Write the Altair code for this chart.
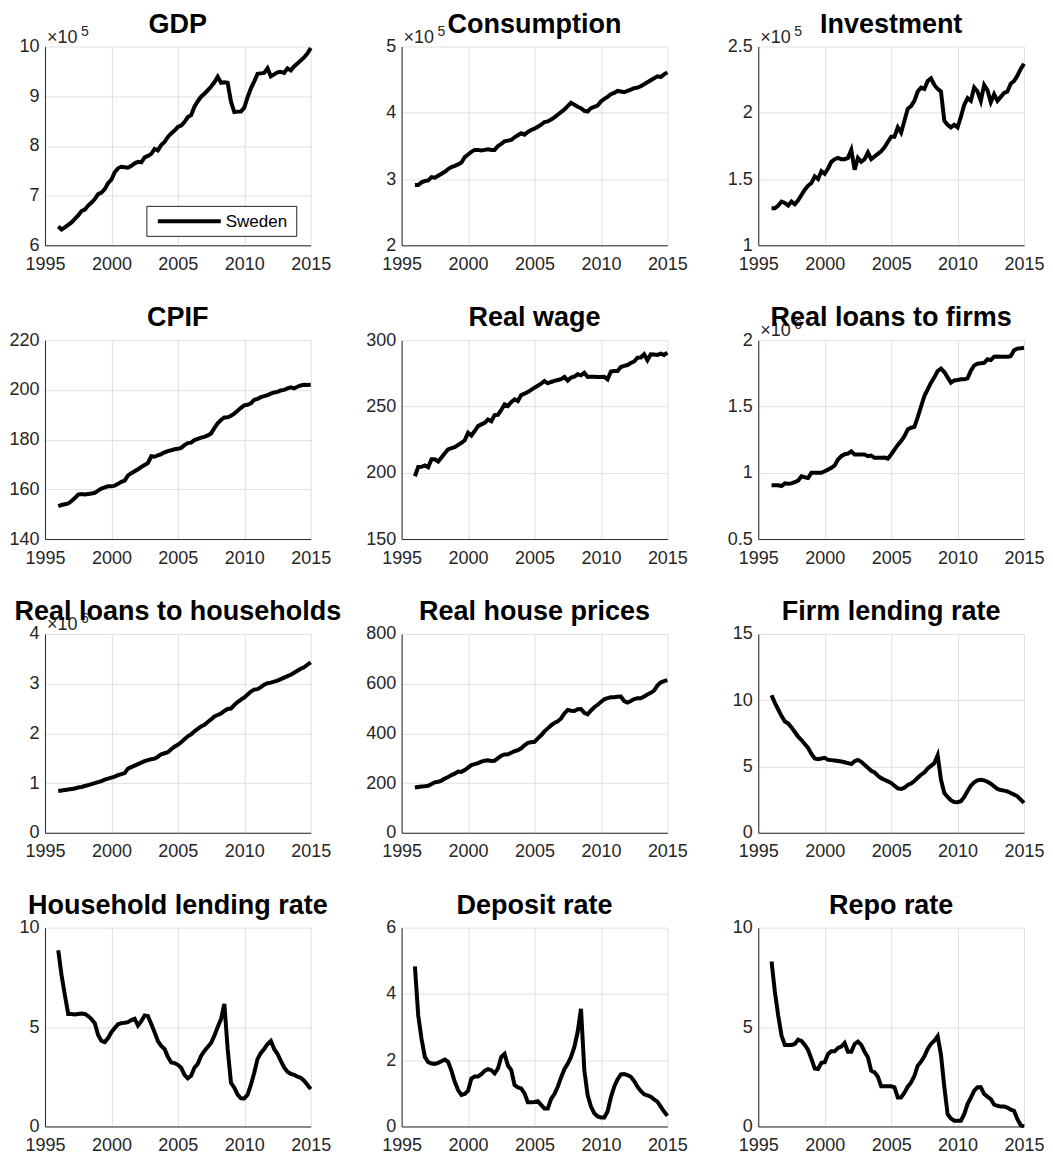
import altair as alt
import pandas as pd

FONT = "Liberation Sans"
AX = "#262626"

# quarterly dates 1996Q1 .. 2015Q1
years = [1996 + 0.25 * i for i in range(77)]

# values (in the units shown on each axis)
gdp = [6.38, 6.32, 6.36, 6.41, 6.46, 6.53, 6.60, 6.69, 6.72, 6.80, 6.86, 6.93,
       7.03, 7.06, 7.13, 7.25, 7.32, 7.47, 7.55, 7.58, 7.57, 7.56, 7.60, 7.65,
       7.68, 7.67, 7.77, 7.80, 7.84, 7.94, 7.91, 8.02, 8.08, 8.18, 8.25, 8.31,
       8.38, 8.41, 8.48, 8.58, 8.62, 8.79, 8.90, 8.99, 9.05, 9.12, 9.19, 9.28,
       9.39, 9.27, 9.28, 9.27, 8.89, 8.68, 8.69, 8.69, 8.77, 8.98, 9.16, 9.30,
       9.45, 9.46, 9.47, 9.56, 9.40, 9.44, 9.48, 9.49, 9.47, 9.56, 9.52, 9.60,
       9.66, 9.72, 9.78, 9.86, 9.97]
consumption = [2.91, 2.91, 2.95, 2.97, 2.98, 3.03, 3.02, 3.05, 3.08, 3.11, 3.15, 3.18,
               3.20, 3.22, 3.25, 3.33, 3.37, 3.41, 3.44, 3.44, 3.43, 3.44, 3.45, 3.44,
               3.44, 3.50, 3.53, 3.57, 3.58, 3.59, 3.63, 3.66, 3.69, 3.67, 3.71, 3.74,
               3.76, 3.79, 3.82, 3.86, 3.87, 3.90, 3.93, 3.97, 4.01, 4.05, 4.10, 4.15,
               4.12, 4.09, 4.07, 4.03, 4.02, 4.07, 4.09, 4.11, 4.17, 4.21, 4.24, 4.28,
               4.30, 4.33, 4.32, 4.31, 4.33, 4.35, 4.37, 4.38, 4.40, 4.43, 4.46, 4.49,
               4.52, 4.55, 4.54, 4.58, 4.61]
investment = [1.28, 1.28, 1.30, 1.33, 1.32, 1.30, 1.33, 1.31, 1.34, 1.38, 1.42, 1.45,
              1.47, 1.52, 1.50, 1.56, 1.54, 1.58, 1.63, 1.65, 1.66, 1.65, 1.65, 1.66,
              1.72, 1.57, 1.66, 1.63, 1.65, 1.70, 1.65, 1.67, 1.69, 1.71, 1.74, 1.78,
              1.82, 1.82, 1.89, 1.85, 1.94, 2.03, 2.05, 2.09, 2.16, 2.19, 2.18, 2.24,
              2.26, 2.21, 2.18, 2.16, 1.94, 1.91, 1.89, 1.91, 1.89, 1.97, 2.06, 2.11,
              2.09, 2.19, 2.16, 2.09, 2.21, 2.17, 2.08, 2.14, 2.09, 2.12, 2.15, 2.16,
              2.22, 2.24, 2.28, 2.33, 2.37]
cpif = [153.2, 153.7, 154.0, 154.3, 155.3, 156.5, 157.9, 158.1, 157.9, 158.1, 158.3, 158.6,
        159.5, 160.3, 160.8, 161.2, 161.2, 161.5, 162.2, 163.0, 163.5, 165.6, 166.5, 167.3,
        168.1, 169.0, 169.8, 170.6, 173.3, 173.1, 173.7, 174.2, 174.9, 175.4, 175.7, 176.1,
        176.3, 176.7, 177.8, 178.6, 178.8, 179.8, 180.3, 180.8, 181.1, 181.7, 182.5, 184.6,
        186.6, 187.9, 188.9, 189.0, 189.6, 190.5, 191.6, 192.8, 193.8, 194.0, 194.6, 196.0,
        196.4, 197.1, 197.5, 197.9, 198.5, 199.0, 199.2, 199.8, 200.0, 200.6, 201.0, 200.6,
        201.3, 201.8, 202.1, 202.0, 202.1]
real_wage = [197.4, 204.4, 204.5, 205.5, 204.2, 210.2, 210.2, 208.5, 211.5, 214.7, 217.6, 218.6,
             219.3, 221.0, 222.6, 224.5, 230.2, 228.1, 231.5, 235.2, 236.5, 237.7, 240.2, 238.9,
             243.5, 243.7, 247.4, 251.6, 250.3, 253.2, 255.4, 254.1, 258.6, 259.7, 260.9, 262.5,
             264.2, 265.7, 267.2, 269.2, 267.5, 268.5, 269.3, 270.0, 270.7, 272.3, 269.5, 271.8,
             272.5, 274.3, 273.5, 275.5, 272.3, 272.5, 272.5, 272.3, 272.3, 272.4, 270.5, 276.4,
             276.8, 276.8, 279.8, 280.7, 281.3, 282.8, 284.0, 286.9, 287.0, 289.4, 284.9, 289.4,
             289.3, 288.9, 289.9, 288.9, 290.7]
loans_firms = [0.906, 0.906, 0.905, 0.900, 0.920, 0.918, 0.920, 0.930, 0.940, 0.973, 0.966, 0.960,
               1.000, 1.000, 1.000, 1.000, 1.012, 1.024, 1.037, 1.055, 1.100, 1.125, 1.140, 1.145,
               1.162, 1.138, 1.138, 1.138, 1.138, 1.125, 1.130, 1.113, 1.113, 1.113, 1.115, 1.107,
               1.138, 1.175, 1.210, 1.239, 1.276, 1.327, 1.340, 1.346, 1.420, 1.500, 1.579, 1.629,
               1.680, 1.720, 1.768, 1.786, 1.760, 1.720, 1.680, 1.697, 1.700, 1.705, 1.705, 1.712,
               1.770, 1.810, 1.823, 1.826, 1.830, 1.856, 1.850, 1.876, 1.878, 1.876, 1.876, 1.876,
               1.880, 1.924, 1.937, 1.940, 1.944]
loans_households = [0.84, 0.85, 0.86, 0.87, 0.88, 0.89, 0.91, 0.92, 0.94, 0.96, 0.98, 1.00,
                    1.02, 1.04, 1.07, 1.09, 1.11, 1.13, 1.16, 1.18, 1.20, 1.29, 1.32, 1.35,
                    1.38, 1.41, 1.44, 1.46, 1.48, 1.49, 1.53, 1.58, 1.60, 1.62, 1.68, 1.73,
                    1.77, 1.82, 1.88, 1.94, 1.98, 2.04, 2.09, 2.14, 2.17, 2.23, 2.28, 2.34,
                    2.37, 2.40, 2.45, 2.49, 2.50, 2.57, 2.63, 2.68, 2.72, 2.78, 2.84, 2.88,
                    2.89, 2.93, 2.98, 3.01, 3.02, 3.04, 3.06, 3.09, 3.12, 3.15, 3.18, 3.22,
                    3.26, 3.30, 3.33, 3.38, 3.43]
house_prices = [182, 184, 186, 187, 189, 196, 203, 205, 210, 218, 224, 232,
                238, 246, 245, 252, 262, 272, 276, 280, 286, 290, 292, 289,
                290, 300, 310, 315, 316, 322, 328, 332, 340, 352, 362, 364,
                366, 380, 392, 408, 420, 432, 442, 448, 460, 480, 494, 491,
                490, 497, 498, 483, 477, 492, 505, 515, 526, 537, 542, 545,
                545, 547, 548, 530, 524, 530, 538, 541, 541, 548, 556, 563,
                572, 592, 605, 610, 614]
firm_rate = [10.38, 9.8, 9.3, 8.8, 8.4, 8.25, 7.95, 7.6, 7.25, 7.0, 6.7, 6.4,
             5.95, 5.6, 5.55, 5.6, 5.65, 5.5, 5.48, 5.45, 5.42, 5.38, 5.32, 5.25,
             5.18, 5.4, 5.5, 5.35, 5.13, 4.9, 4.68, 4.55, 4.3, 4.12, 4.0, 3.88,
             3.75, 3.55, 3.35, 3.3, 3.4, 3.6, 3.72, 3.9, 4.15, 4.38, 4.55, 4.85,
             5.05, 5.25, 5.85, 4.0, 3.0, 2.7, 2.45, 2.32, 2.3, 2.38, 2.7, 3.15,
             3.55, 3.8, 3.95, 4.0, 3.95, 3.85, 3.7, 3.5, 3.3, 3.22, 3.18, 3.12,
             3.0, 2.88, 2.75, 2.5, 2.25]
household_rate = [8.86, 7.6, 6.6, 5.66, 5.66, 5.63, 5.66, 5.68, 5.66, 5.55, 5.4, 5.2,
                  4.6, 4.3, 4.24, 4.45, 4.74, 4.95, 5.14, 5.2, 5.22, 5.25, 5.35, 5.42,
                  5.08, 5.3, 5.58, 5.55, 5.16, 4.74, 4.3, 4.05, 3.9, 3.5, 3.22, 3.19,
                  3.1, 2.95, 2.6, 2.42, 2.55, 2.95, 3.15, 3.55, 3.8, 4.0, 4.2, 4.57,
                  5.0, 5.4, 6.17, 3.9, 2.2, 1.95, 1.6, 1.42, 1.41, 1.6, 2.1, 2.7,
                  3.4, 3.7, 3.9, 4.15, 4.3, 3.9, 3.65, 3.3, 2.97, 2.75, 2.65, 2.6,
                  2.5, 2.45, 2.3, 2.1, 1.88]
deposit_rate = [4.83, 3.35, 2.64, 2.1, 1.94, 1.9, 1.89, 1.92, 1.97, 2.02, 1.95, 1.68,
                1.35, 1.1, 0.95, 0.98, 1.08, 1.45, 1.51, 1.51, 1.58, 1.68, 1.73, 1.7,
                1.6, 1.75, 2.1, 2.19, 1.84, 1.7, 1.25, 1.18, 1.15, 1.0, 0.73, 0.73,
                0.74, 0.76, 0.65, 0.54, 0.54, 0.83, 0.98, 1.2, 1.48, 1.73, 1.89, 2.1,
                2.4, 2.85, 3.55, 1.7, 0.95, 0.6, 0.4, 0.3, 0.27, 0.27, 0.45, 0.88,
                1.2, 1.42, 1.57, 1.58, 1.55, 1.5, 1.37, 1.2, 1.07, 0.97, 0.94, 0.9,
                0.82, 0.75, 0.6, 0.45, 0.32]
repo_rate = [8.3, 6.76, 5.58, 4.57, 4.1, 4.1, 4.1, 4.15, 4.37, 4.3, 4.1, 3.85,
             3.4, 2.92, 2.89, 3.2, 3.23, 3.65, 3.78, 3.78, 3.95, 4.02, 4.2, 3.76,
             3.76, 4.15, 4.27, 4.1, 3.76, 3.48, 2.81, 2.72, 2.5, 2.02, 2.02, 2.02,
             2.02, 1.97, 1.46, 1.46, 1.7, 2.0, 2.22, 2.55, 3.06, 3.26, 3.53, 3.9,
             4.15, 4.32, 4.54, 3.6, 2.0, 0.62, 0.4, 0.29, 0.29, 0.29, 0.62, 1.13,
             1.45, 1.8, 1.97, 1.97, 1.63, 1.5, 1.38, 1.1, 1.04, 1.0, 1.0, 0.95,
             0.84, 0.79, 0.37, 0.07, 0.0]

titles = ["GDP", "Consumption", "Investment", "CPIF", "Real wage", "Real loans to firms",
          "Real loans to households", "Real house prices", "Firm lending rate",
          "Household lending rate", "Deposit rate", "Repo rate"]
series = [gdp, consumption, investment, cpif, real_wage, loans_firms, loans_households,
          house_prices, firm_rate, household_rate, deposit_rate, repo_rate]
y_domains = [[6, 10], [2, 5], [1, 2.5], [140, 220], [150, 300], [0.5, 2], [0, 4], [0, 800],
             [0, 15], [0, 10], [0, 6], [0, 10]]
y_ticks = [[6, 7, 8, 9, 10], [2, 3, 4, 5], [1, 1.5, 2, 2.5], [140, 160, 180, 200, 220],
           [150, 200, 250, 300], [0.5, 1, 1.5, 2], [0, 1, 2, 3, 4], [0, 200, 400, 600, 800],
           [0, 5, 10, 15], [0, 5, 10], [0, 2, 4, 6], [0, 5, 10]]
exponents = ["5", "5", "5", None, None, "6", "6", None, None, None, None, None]
x_ticks = [1995, 2000, 2005, 2010, 2015]
legend_label = "Sweden"

W, H = 266, 199


def panel(i):
    df = pd.DataFrame({"year": years, "value": series[i]})
    line = alt.Chart(df).mark_line(
        color="black", strokeWidth=4, strokeJoin="miter", strokeMiterLimit=4
    ).encode(
        x=alt.X("year:Q", scale=alt.Scale(domain=[1995, 2015], nice=False, zero=False),
                axis=alt.Axis(values=x_ticks, labelExpr="datum.value + ''", title=None)),
        y=alt.Y("value:Q", scale=alt.Scale(domain=y_domains[i], nice=False, zero=False),
                axis=alt.Axis(values=y_ticks[i], labelExpr="datum.value + ''", title=None)),
    )
    layers = [line]
    one = alt.Data(values=[{"k": 1}])
    if exponents[i]:
        layers.append(alt.Chart(one).mark_text(
            text="×10", align="left", baseline="alphabetic", fontSize=18,
            font=FONT, color=AX).encode(x=alt.value(2), y=alt.value(-4)))
        layers.append(alt.Chart(one).mark_text(
            text=exponents[i], align="left", baseline="alphabetic", fontSize=14,
            font=FONT, color=AX).encode(x=alt.value(36), y=alt.value(-11)))
    if i == 0:
        layers.append(alt.Chart(one).mark_rect(
            fill="white", stroke=AX, strokeWidth=1).encode(
            x=alt.value(102), x2=alt.value(252), y=alt.value(160), y2=alt.value(190)))
        layers.append(alt.Chart(one).mark_rule(
            color="black", strokeWidth=4).encode(
            x=alt.value(113), x2=alt.value(176), y=alt.value(175)))
        layers.append(alt.Chart(one).mark_text(
            text=legend_label, align="left", baseline="middle", fontSize=17,
            font=FONT, color="black").encode(x=alt.value(181), y=alt.value(176)))
    # panel title
    layers.append(alt.Chart(one).mark_text(
        text=titles[i], align="center", baseline="alphabetic", fontSize=27,
        fontWeight="bold", font=FONT, color="black").encode(
        x=alt.value(W / 2), y=alt.value(-14)))
    return alt.layer(*layers).properties(width=W, height=H)


chart = alt.concat(
    *[panel(i) for i in range(12)],
    columns=3,
    spacing={"row": 95, "column": 91},
    bounds="flush",
).properties(
    padding={"left": 0, "top": 2, "right": 0, "bottom": 0}
).configure_view(stroke=None).configure_axis(
    labelFont=FONT, labelFontSize=18, labelColor=AX, domainColor=AX, domainWidth=1,
    gridColor="#e0e0e0", gridWidth=1, ticks=False,
).configure_axisX(labelPadding=10, labelFlush=False).configure_axisY(labelPadding=6)

chart.save("out.html", embed_options={"renderer": "svg", "actions": False})
